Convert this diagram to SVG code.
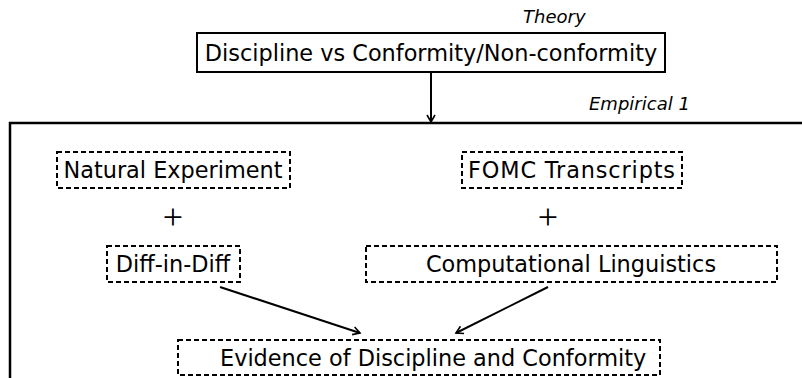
<svg xmlns="http://www.w3.org/2000/svg" width="802" height="378" viewBox="0 0 802 378">
<defs>
<style>
text{font-family:"DejaVu Sans","Liberation Sans",sans-serif;fill:#000}
.lbl{font-size:22.4px;text-anchor:middle}
.ls{font-size:22.4px}
.it{font-size:18px;font-style:italic}
.plus{font-family:"Liberation Serif",serif;font-size:36px;text-anchor:middle}
.solid{fill:#fff;stroke:#000;stroke-width:2}
.dash{fill:none;stroke:#000;stroke-width:2;stroke-dasharray:5 3}
.conn{stroke:#000;stroke-width:2;fill:none;marker-end:url(#ah)}
</style>
<marker id="ah" markerWidth="10" markerHeight="10" refX="8" refY="5" orient="auto" markerUnits="userSpaceOnUse">
<path d="M1,1 L8,5 L1,9" fill="none" stroke="#000" stroke-width="1.6"/>
</marker>
</defs>
<rect width="802" height="378" fill="#fff"/>
<g id="frame">
<path d="M10,378 V123 H802" fill="none" stroke="#000" stroke-width="2.5"/>
<text class="it" x="589" y="110">Empirical 1</text>
</g>
<g id="theory">
<text class="it" x="523" y="23">Theory</text>
<rect class="solid" x="197" y="33" width="468" height="39"/>
<text class="lbl" x="431" y="61">Discipline vs Conformity/Non-conformity</text>
</g>
<g id="natural">
<rect class="dash" x="57" y="152" width="233" height="36"/>
<text class="lbl" x="173" y="178">Natural Experiment</text>
</g>
<g id="fomc">
<rect class="dash" x="462" y="152" width="220" height="36"/>
<text class="ls" x="468" y="178" textLength="207" lengthAdjust="spacing">FOMC Transcripts</text>
</g>
<g id="plus1"><text class="plus" x="173" y="229">+</text></g>
<g id="plus2"><text class="plus" x="548" y="229">+</text></g>
<g id="did">
<rect class="dash" x="107" y="246" width="133" height="36"/>
<text class="lbl" x="173" y="272">Diff-in-Diff</text>
</g>
<g id="cl">
<rect class="dash" x="366" y="246" width="411" height="36"/>
<text class="lbl" x="571" y="272">Computational Linguistics</text>
</g>
<g id="evidence">
<rect class="dash" x="178" y="340" width="482" height="35"/>
<text class="ls" x="220" y="366">Evidence of Discipline and Conformity</text>
</g>
<g id="connectors">
<line class="conn" x1="431" y1="72" x2="431" y2="122"/>
<line class="conn" x1="220" y1="287" x2="360" y2="333"/>
<line class="conn" x1="548" y1="287" x2="456" y2="333"/>
</g>
</svg>
